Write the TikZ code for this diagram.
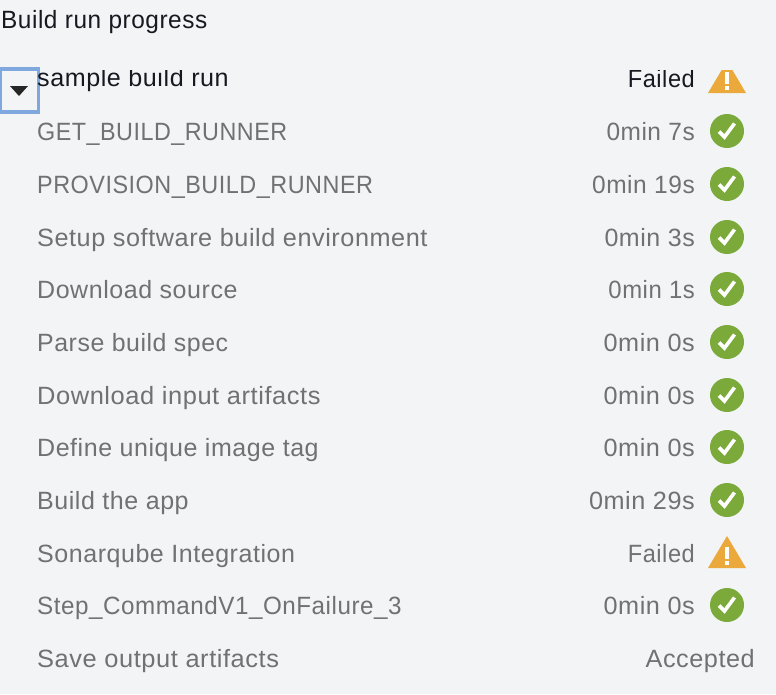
\documentclass[tikz,border=0pt]{standalone}
\usepackage{graphicx}
\usepackage{fontspec}
\setmainfont[LetterSpace=2.2]{Liberation Sans}
\definecolor{pagebg}{HTML}{F3F4F6}
\definecolor{inkdark}{HTML}{16191F}
\definecolor{inkgrey}{HTML}{707172}
\definecolor{okgreen}{HTML}{7BA93A}
\definecolor{warnor}{HTML}{EBA93B}
\definecolor{focusblue}{HTML}{7FA9DE}
\newcommand{\fitx}[2]{\scalebox{#1}[1]{#2}}
\tikzset{x=1pt,y=-1pt,
 rowtext/.style={inner sep=0pt,anchor=base west,font=\fontsize{25}{30}\selectfont,text=inkgrey},
 rowtime/.style={inner sep=0pt,anchor=base east,font=\fontsize{25}{30}\selectfont,text=inkgrey},
 darktext/.style={text=inkdark},
 okdisc/.style={circle,fill=okgreen,minimum size=34pt,inner sep=0pt},
 warntri/.style={fill=warnor},
 tickline/.style={draw=white,line width=3.6pt},
 bangline/.style={draw=white,line width=4.4pt}}
\newcommand{\okicon}[1]{%
 \node[okdisc] (ok#1) at (727,#1) {};
 \draw[tickline] (719,#1+0.5) -- (724.5,#1+6) -- (734.5,#1-7.5);}
\newcommand{\warnicon}[1]{%
 \fill[warntri] (708,#1+15) -- (727,#1-17) -- (746,#1+15) -- cycle;
 \draw[bangline] (727,#1-6) -- (727,#1+6);
 \draw[bangline] (727,#1+8) -- (727,#1+12);}
\begin{document}
\begin{tikzpicture}
\fill[pagebg] (0,0) rectangle (776,694);
\useasboundingbox (0,0) rectangle (776,694);
\node[rowtext,darktext] (title) at (1,28) {\fitx{.976}{Build run progress}};
\node[draw=focusblue,line width=3.2pt,minimum width=38pt,minimum height=43pt,inner sep=0pt] (toggle) at (19.5,90.5) {};
\fill[black!85] (10,86) -- (28,86) -- (19,96) -- cycle;
\begin{scope}
\clip (0,70.7) rectangle (776,120);
\node[rowtext,darktext] (head) at (37,86) {\fitx{1.005}{sample build run}};
\node[rowtime,darktext] (headst) at (695,87) {\fitx{.944}{Failed}};
\warnicon{78}
\end{scope}
\node[rowtext] (r1) at (37,140.5) {\fitx{.933}{GET\_BUILD\_RUNNER}};
\node[rowtime] (t1) at (695,140.5) {\fitx{.978}{0min 7s}}; \okicon{131}
\node[rowtext] (r2) at (37,193) {\fitx{.936}{PROVISION\_BUILD\_RUNNER}};
\node[rowtime] (t2) at (695,193) {\fitx{.98}{0min 19s}}; \okicon{184}
\node[rowtext] (r3) at (37,246) {\fitx{1.01}{Setup software build environment}};
\node[rowtime] (t3) at (695,246) {0min 3s}; \okicon{237}
\node[rowtext] (r4) at (37,298) {Download source};
\node[rowtime] (t4) at (695,298) {\fitx{.956}{0min 1s}}; \okicon{289}
\node[rowtext] (r5) at (37,351) {\fitx{.995}{Parse build spec}};
\node[rowtime] (t5) at (695,351) {\fitx{1.01}{0min 0s}}; \okicon{342}
\node[rowtext] (r6) at (37,404) {\fitx{1.018}{Download input artifacts}};
\node[rowtime] (t6) at (695,404) {\fitx{1.01}{0min 0s}}; \okicon{395}
\node[rowtext] (r7) at (37,456) {Define unique image tag};
\node[rowtime] (t7) at (695,456) {\fitx{1.01}{0min 0s}}; \okicon{447}
\node[rowtext] (r8) at (37,509) {Build the app};
\node[rowtime] (t8) at (695,509) {\fitx{1.01}{0min 29s}}; \okicon{500}
\node[rowtext] (r9) at (37,562) {Sonarqube Integration};
\node[rowtime] (t9) at (695,562) {\fitx{.944}{Failed}}; \warnicon{553}
\node[rowtext] (r10) at (37,614) {\fitx{.968}{Step\_CommandV1\_OnFailure\_3}};
\node[rowtime] (t10) at (695,614) {\fitx{1.01}{0min 0s}}; \okicon{605}
\node[rowtext] (r11) at (37,667) {\fitx{1.017}{Save output artifacts}};
\node[rowtime] (t11) at (755,667) {\fitx{1.01}{Accepted}};
\end{tikzpicture}
\end{document}
